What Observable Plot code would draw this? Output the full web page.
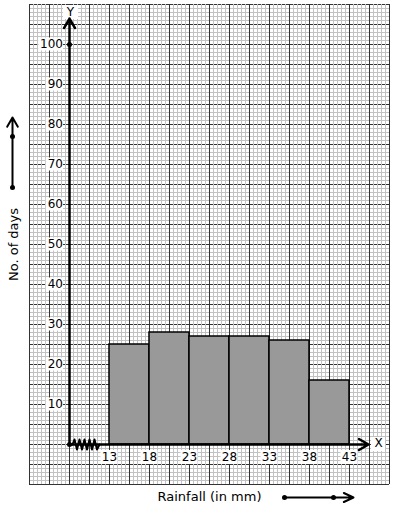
<!DOCTYPE html>
<html><head><meta charset="utf-8">
<script src="https://cdn.jsdelivr.net/npm/d3@7"></script>
<script src="https://cdn.jsdelivr.net/npm/@observablehq/plot@0.6"></script>
<style>body{margin:0;background:#fff;font-family:"DejaVu Sans",sans-serif;}</style>
</head><body><div id="chart"></div>
<script>
// ---- data ----
const classEdges = [13, 18, 23, 28, 33, 38, 43];
const frequencies = [25, 28, 27, 27, 26, 16];
const yTickValues = [10, 20, 30, 40, 50, 60, 70, 80, 90, 100];
const xTickValues = [13, 18, 23, 28, 33, 38, 43];
const xTitle = "Rainfall (in mm)";
const yTitle = "No. of days";

// ---- layout helpers (graph paper: 8px per mm, 4px per day) ----
const W = 394, H = 510;
const mL = 29, mR = 5, mT = 4, mB = 26;
const xDomain = [3, 48], yDomain = [-10, 110];
const pxX = (W - mL - mR) / (xDomain[1] - xDomain[0]); // px per x unit
const pxY = (H - mT - mB) / (yDomain[1] - yDomain[0]); // px per y unit
const origin = classEdges[0] - 5; // broken axis origin
const dx = p => p / pxX, dy = p => p / pxY;

const bars = frequencies.map((f, i) => ({x1: classEdges[i], x2: classEdges[i + 1], y: f}));

const minorX = d3.range(xDomain[0], xDomain[1] + 0.001, 0.5);
const majorX = d3.range(xDomain[0], xDomain[1] + 0.001, 2.5);
const minorY = d3.range(yDomain[0], yDomain[1] + 0.001, 1);
const majorY = d3.range(yDomain[0], yDomain[1] + 0.001, 5);

const yLabX = origin - dx(6.5);
const yLabels = yTickValues.map(v => ({v, t: String(v), x1: origin - dx(6) - dx(String(v).length * 7.6 + 2), x2: origin - dx(6), y1: v - dy(6.5), y2: v + dy(6.5)}));
const xLabY = -dy(13);
const xLabels = xTickValues.map(v => ({v, t: String(v), x1: v - dx(8.5), x2: v + dx(8.5), y1: xLabY - dy(7), y2: xLabY + dy(7)}));

// zigzag break on x-axis (pixel offsets from origin)
const zigPx = [[3,0],[5,5],[7.5,-5],[10,5],[12.5,-5],[15,5],[17.5,-5],[20,5],[22.5,-5],[25,5],[27.5,-5],[30,0]];
const zig = zigPx.map(([a, b]) => ({x: origin + dx(a), y: dy(b)}));

const axisArrows = [
  {x1: origin, y1: 0, x2: origin, y2: 106.5},
  {x1: origin, y1: 0, x2: origin + dx(299), y2: 0}
];
const sideY = {x: xDomain[0] - dx(17), y1: 64.25, y2: 81.75, dot2: 77};
const sideX = {y: yDomain[0] - dy(13), x1: xDomain[0] + dx(255), x2: xDomain[0] + dx(324), dot2: xDomain[0] + dx(304)};

const letterBoxes = [
  {t: "Y", x: origin + dx(1), y: 108, x1: origin - dx(6), x2: origin + dx(9), y1: 108 - dy(7), y2: 108 + dy(7)},
  {t: "X", x: origin + dx(309), y: dy(1), x1: origin + dx(302), x2: origin + dx(316), y1: -dy(7), y2: dy(7)}
];

const chart = Plot.plot({
  width: W, height: H,
  marginLeft: mL, marginRight: mR, marginTop: mT, marginBottom: mB,
  x: {domain: xDomain, axis: null},
  y: {domain: yDomain, axis: null},
  style: {fontFamily: "DejaVu Sans", fontSize: "12px", background: "white", color: "black"},
  marks: [
    Plot.ruleY(minorY, {stroke: "#c2c2c2", strokeWidth: 1}),
    Plot.ruleY(majorY, {stroke: "#333", strokeWidth: 1}),
    Plot.ruleX(minorX, {stroke: "#c2c2c2", strokeWidth: 1}),
    Plot.ruleX(majorX, {stroke: "#333", strokeWidth: 1}),
    Plot.rectY(bars, {x1: "x1", x2: "x2", y1: 0, y2: "y", fill: "#999", stroke: "black", strokeWidth: 1.5}),
    Plot.rect(yLabels, {x1: "x1", x2: "x2", y1: "y1", y2: "y2", fill: "white"}),
    Plot.text(yLabels, {x: yLabX, y: "v", text: "t", textAnchor: "end", fontSize: 12, fill: "black"}),
    Plot.rect(xLabels, {x1: "x1", x2: "x2", y1: "y1", y2: "y2", fill: "white"}),
    Plot.text(xLabels, {x: "v", y: xLabY, text: "t", fontSize: 12, fill: "black"}),
    Plot.rect(letterBoxes, {x1: "x1", x2: "x2", y1: "y1", y2: "y2", fill: "white"}),
    Plot.text(letterBoxes, {x: "x", y: "y", text: "t", fontSize: 12, fill: "black"}),
    Plot.arrow(axisArrows, {x1: "x1", y1: "y1", x2: "x2", y2: "y2", stroke: "black", strokeWidth: 2.5, headLength: 6.6, headAngle: 60}),
    Plot.line(zig, {x: "x", y: "y", stroke: "black", strokeWidth: 2}),
    Plot.dot([{x: origin, y: 0}, {x: origin, y: 100}], {x: "x", y: "y", r: 2.5, fill: "black"}),
    // y-title and its arrow
    Plot.text([yTitle], {x: xDomain[0] - dx(16), y: 50, text: d => d, rotate: -90, fontSize: 13, fill: "black"}),
    Plot.arrow([sideY], {x1: "x", x2: "x", y1: "y1", y2: "y2", stroke: "black", strokeWidth: 2, headLength: 8, headAngle: 60}),
    Plot.dot([sideY, sideY], {x: "x", y: (d, i) => i ? d.dot2 : d.y1, r: 2.5, fill: "black"}),
    // x-title and its arrow
    Plot.text([xTitle], {x: xDomain[0] + dx(180), y: yDomain[0] - dy(12), text: d => d, fontSize: 13, fill: "black"}),
    Plot.arrow([sideX], {x1: "x1", x2: "x2", y1: "y", y2: "y", stroke: "black", strokeWidth: 2, headLength: 8, headAngle: 50}),
    Plot.dot([sideX, sideX], {x: (d, i) => i ? d.dot2 : d.x1, y: "y", r: 2.5, fill: "black"})
  ]
});
document.getElementById("chart").appendChild(chart);
</script>
</body></html>
